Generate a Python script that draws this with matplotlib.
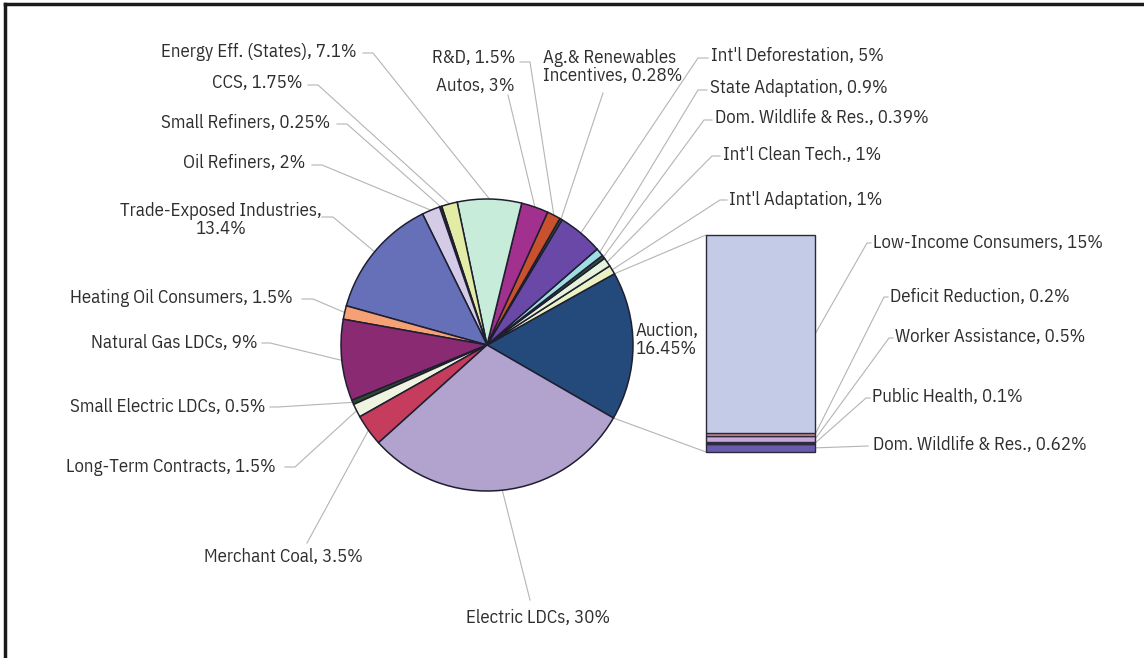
import matplotlib.pyplot as plt
import numpy as np

W, H = 1144, 658

# pie: Auction first, then counter-clockwise
pie_names = ["Auction", "Int'l Adaptation", "Int'l Clean Tech.", "Dom. Wildlife & Res.",
             "State Adaptation", "Int'l Deforestation", "Ag.& Renewables\nIncentives", "R&D",
             "Autos", "Energy Eff. (States)", "CCS", "Small Refiners", "Oil Refiners",
             "Trade-Exposed Industries", "Heating Oil Consumers", "Natural Gas LDCs",
             "Small Electric LDCs", "Long-Term Contracts", "Merchant Coal", "Electric LDCs"]
pie_values = [16.45, 1, 1, 0.39, 0.9, 5, 0.28, 1.5, 3, 7.1, 1.75, 0.25, 2, 13.4, 1.5, 9,
              0.5, 1.5, 3.5, 30]
pie_seps = [",\n", ", ", ", ", ", ", ", ", ", ", ", ", ", ", ", ", ", ", ", ", ", ", ", ",
            ",\n", ", ", ", ", ", ", ", ", ", ", ", "]
pie_colors = ['#244a7c', '#eaf2c4', '#e6f2dc', '#2f4f3a', '#9fdce4', '#6a48a8', '#3a5a2a',
              '#c9512d', '#a2308e', '#c8ecda', '#e2eca4', '#3a2a3a', '#d4cce6', '#6670b8',
              '#f5a175', '#8a2a72', '#2e4a2e', '#eef4e0', '#c63c5c', '#b2a2ce']

# bar: bottom to top
bar_names = ["Dom. Wildlife & Res.", "Public Health", "Worker Assistance",
             "Deficit Reduction", "Low-Income Consumers"]
bar_values = [0.62, 0.1, 0.5, 0.2, 15]
bar_colors = ['#6a5aae', '#3a2a50', '#c8a8d8', '#d89090', '#c3cbe6']

# label layout in image pixels: text x, y, alignment, leader points (pie side -> text side)
pie_layout = [
    (667, 340, 'center', []),
    (729, 200, 'left', [(720, 200), (727, 200)]),
    (723, 155, 'left', [(712, 156), (720, 156)]),
    (715, 118, 'left', [(704, 120), (712, 120)]),
    (710, 88, 'left', [(698, 90), (707, 90)]),
    (711, 56, 'left', [(698, 58), (708, 58)]),
    (543, 67, 'left', [(603, 93)]),
    (515, 58, 'right', [(530, 62), (520, 62)]),
    (515, 86, 'right', [(508, 95)]),
    (357, 52, 'right', [(373, 53), (363, 53)]),
    (302, 83, 'right', [(318, 85), (308, 85)]),
    (330, 123, 'right', [(347, 124), (337, 124)]),
    (305, 163, 'right', [(322, 165), (312, 165)]),
    (221, 220, 'center', [(333, 217), (322, 217)]),
    (293, 298, 'right', [(313, 299), (302, 299)]),
    (258, 343, 'right', [(270, 343), (262, 343)]),
    (265, 407, 'right', [(278, 407), (270, 407)]),
    (276, 467, 'right', [(295, 467), (285, 467)]),
    (283, 557, 'center', [(307, 543)]),
    (538, 618, 'center', [(530, 600)]),
]
bar_layout = [
    (873, 445, [(868, 446)]),
    (872, 397, [(866, 398), (870, 398)]),
    (895, 337, [(889, 338), (893, 338)]),
    (890, 297, [(884, 297), (888, 297)]),
    (873, 243, [(867, 243), (871, 243)]),
]


def fy(y):
    return H - y


plt.rcParams['font.family'] = ['IBM Plex Sans Condensed', 'Roboto', 'DejaVu Sans']
txt_color = '#2e2e2e'
lead_color = '#b4b4b4'
fs = 13.5

fig = plt.figure(figsize=(W / 100, H / 100), dpi=100)
ax = fig.add_axes([0, 0, 1, 1])

cx, cy, r = 487, fy(345), 146
wedges, _ = ax.pie(pie_values, colors=pie_colors, startangle=-30, counterclock=True,
                   center=(cx, cy), radius=r,
                   wedgeprops=dict(edgecolor='#1e1e30', linewidth=1.1))

for w, name, v, sep, (tx, ty, ha, pts) in zip(wedges, pie_names, pie_values, pie_seps, pie_layout):
    ax.text(tx, fy(ty), f"{name}{sep}{v:g}%", ha=ha, va='center', fontsize=fs,
            color=txt_color, multialignment='center' if ha == 'center' else ha,
            linespacing=1.05)
    if pts:
        mid = np.radians((w.theta1 + w.theta2) / 2)
        xs = [cx + r * np.cos(mid)] + [p[0] for p in pts]
        ys = [cy + r * np.sin(mid)] + [fy(p[1]) for p in pts]
        ax.plot(xs, ys, color=lead_color, lw=0.8, zorder=0)

# stacked bar for the auction
bar_left, bar_right, bar_top, bar_bot = 706, 815, 235, 452
scale = (bar_bot - bar_top) / sum(bar_values)
heights = np.array(bar_values) * scale
bottoms = fy(bar_bot) + np.concatenate([[0], np.cumsum(heights)[:-1]])
bx = (bar_left + bar_right) / 2
ax.bar(bx, heights, width=bar_right - bar_left, bottom=bottoms, color=bar_colors,
       edgecolor='#2a2a3a', linewidth=1.0)

for name, v, h, b, (tx, ty, pts) in zip(bar_names, bar_values, heights, bottoms, bar_layout):
    ax.text(tx, fy(ty), f"{name}, {v:g}%", ha='left', va='center', fontsize=fs,
            color=txt_color)
    xs = [bar_right] + [p[0] for p in pts]
    ys = [b + h / 2] + [fy(p[1]) for p in pts]
    ax.plot(xs, ys, color=lead_color, lw=0.8, zorder=0)

# connectors from the auction slice to the bar
a0 = np.radians(wedges[0].theta1)
a1 = np.radians(wedges[0].theta2)
ax.plot([cx + r * np.cos(a0), bar_left], [cy + r * np.sin(a0), fy(bar_bot)],
        color=lead_color, lw=0.8, zorder=0)
ax.plot([cx + r * np.cos(a1), bar_left], [cy + r * np.sin(a1), fy(bar_top)],
        color=lead_color, lw=0.8, zorder=0)

# frame (top and left edges)
ax.plot([5, W], [fy(4), fy(4)], color='#1a1a1a', lw=2.5)
ax.plot([5, 5], [fy(4), 0], color='#1a1a1a', lw=2.5)

ax.set_xlim(0, W)
ax.set_ylim(0, H)
ax.set_aspect('equal')
ax.axis('off')

fig.savefig('out.png', dpi=100)
